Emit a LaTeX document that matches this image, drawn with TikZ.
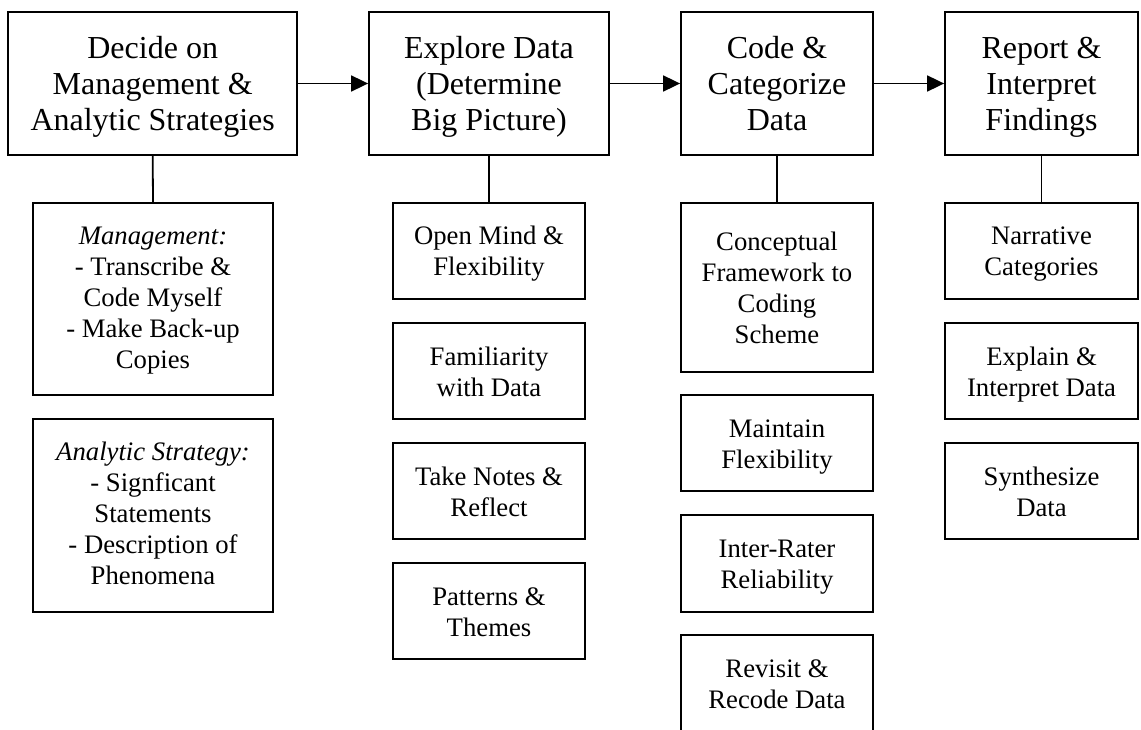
\documentclass[tikz,border=0pt]{standalone}
\usepackage{fontspec}
\setmainfont{Liberation Serif}
\usetikzlibrary{arrows.meta}

% struts that fix where the first baseline and the last baseline sit in a box
\newcommand\hs{\rule{0pt}{\TopH}}
\newcommand\ds{\rule[-\BotD]{0pt}{\BotD}}
\def\TopH{26pt}
\def\BotD{7pt}

\tikzset{
  struts/.style 2 args={execute at begin node={\def\TopH{#1}\def\BotD{#2}}},
  stage/.style={draw, line width=1.8pt, align=center, inner sep=0pt,
    font=\fontsize{32}{36}\selectfont, struts={30pt}{8pt}},
  item/.style={draw, line width=1.8pt, align=center, inner sep=0pt,
    font=\fontsize{26.7}{31}\selectfont, struts={26pt}{7pt}},
  flow/.style={line width=1.8pt, -{Triangle[length=17pt,width=16pt]}},
  link/.style={line width=1.8pt}
}

\begin{document}
\begin{tikzpicture}[x=1pt,y=-1pt]
\useasboundingbox (0,0) rectangle (1141,730);

% main stages
\node[stage, minimum width=288.7pt, minimum height=143pt] (s1) at (152.7,83.5)
  {\hs Decide on\\Management \&\\Analytic Strategies\ds};
\node[stage, minimum width=240pt, minimum height=143pt] (s2) at (489,83.5)
  {\hs Explore Data\\(Determine\\Big Picture)\ds};
\node[stage, minimum width=192pt, minimum height=143pt] (s3) at (777,83.5)
  {\hs Code \&\\Categorize\\Data\ds};
\node[stage, minimum width=193pt, minimum height=143pt] (s4) at (1041.5,83.5)
  {\hs Report \&\\Interpret\\Findings\ds};

\draw[flow] (s1.east) -- (s2.west);
\draw[flow] (s2.east) -- (s3.west);
\draw[flow] (s3.east) -- (s4.west);

% column 1
\node[item, struts={22pt}{8pt}, minimum width=240pt, minimum height=192pt] (a1) at (153,299)
  {\hs\textit{Management:}\\- Transcribe \&\\Code Myself\\- Make Back-up\\Copies\ds};
\node[item, struts={22pt}{9pt}, minimum width=240pt, minimum height=193pt] (a2) at (153,515.5)
  {\hs\textit{Analytic Strategy:}\\- Signficant\\Statements\\- Description of\\Phenomena\ds};

% column 2
\node[item, minimum width=192pt, minimum height=96pt] (b1) at (489,251)
  {\hs Open Mind \&\\Flexibility\ds};
\node[item, minimum width=192pt, minimum height=96pt] (b2) at (489,371)
  {\hs Familiarity\\with Data\ds};
\node[item, minimum width=192pt, minimum height=96pt] (b3) at (489,491)
  {\hs Take Notes \&\\Reflect\ds};
\node[item, minimum width=192pt, minimum height=96pt] (b4) at (489,611)
  {\hs Patterns \&\\Themes\ds};

% column 3
\node[item, minimum width=192pt, minimum height=169pt] (c1) at (777,287.5)
  {\hs Conceptual\\Framework to\\Coding\\Scheme\ds};
\node[item, minimum width=192pt, minimum height=96pt] (c2) at (777,443)
  {\hs Maintain\\Flexibility\ds};
\node[item, minimum width=192pt, minimum height=97pt] (c3) at (777,563.5)
  {\hs Inter-Rater\\Reliability\ds};
\node[item, minimum width=192pt, minimum height=96pt] (c4) at (777,683)
  {\hs Revisit \&\\Recode Data\ds};

% column 4
\node[item, minimum width=193pt, minimum height=96pt] (d1) at (1041.5,251)
  {\hs Narrative\\Categories\ds};
\node[item, minimum width=193pt, minimum height=96pt] (d2) at (1041.5,371)
  {\hs Explain \&\\Interpret Data\ds};
\node[item, minimum width=193pt, minimum height=96pt] (d3) at (1041.5,491)
  {\hs Synthesize\\Data\ds};

% links from stages to their first item
\draw[link] (s1.south) -- (a1.north);
\draw[link] (s2.south) -- (b1.north);
\draw[link] (s3.south) -- (c1.north);
\draw[link] (s4.south) -- (d1.north);
\end{tikzpicture}
\end{document}
